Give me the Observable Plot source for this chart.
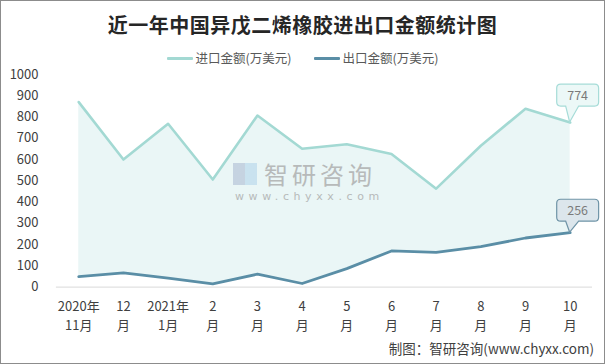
<!DOCTYPE html>
<html><head><meta charset="utf-8">
<script src="https://cdn.jsdelivr.net/npm/d3@7"></script>
<script src="https://cdn.jsdelivr.net/npm/@observablehq/plot@0.6"></script>
<style>
body{margin:0;background:#fff;}
#wrap{position:relative;width:605px;height:364px;box-sizing:border-box;border:1px solid #8c8c8c;overflow:hidden;font-family:"Noto Sans CJK SC","Microsoft YaHei",sans-serif;background:#fff;}
#title{position:absolute;top:10px;left:-1px;width:605px;text-align:center;font-size:20px;font-weight:bold;color:#262626;line-height:28px;letter-spacing:0.5px;}
#legend{position:absolute;top:48px;left:-1px;width:605px;display:flex;justify-content:center;gap:22px;font-size:12.5px;color:#595959;line-height:18px;}
#legend .it{display:flex;align-items:center;gap:3px;}
#legend .sw{width:26px;height:3px;border-radius:1px;}
#chart{position:absolute;left:-1px;top:59px;}
#footer{position:absolute;right:10px;top:337px;font-size:13.5px;color:#404040;line-height:20px;}
#wm{position:absolute;left:228px;top:160px;pointer-events:none;color:#a6a6a6;opacity:0.75;}
#wm .cn{position:absolute;left:35px;top:1px;font-size:24px;letter-spacing:4px;white-space:nowrap;line-height:24px;}
#wm .en{position:absolute;left:6px;top:30px;font-size:11px;letter-spacing:4.6px;white-space:nowrap;line-height:12px;font-family:"DejaVu Sans",sans-serif;}
#wm .logo{position:absolute;left:4px;top:2px;width:24px;height:22px;background:linear-gradient(90deg,#b4c3d8 50%,#b9d9ec 50%);opacity:0.9;}
</style></head>
<body>
<div id="wrap">
  <div id="title">近一年中国异戊二烯橡胶进出口金额统计图</div>
  <div id="legend">
    <div class="it"><div class="sw" style="background:#a3d9d3"></div><span>进口金额(万美元)</span></div>
    <div class="it"><div class="sw" style="background:#5a8ea6"></div><span>出口金额(万美元)</span></div>
  </div>
  <div id="chart"></div>
  <div id="wm"><div class="logo"></div><div class="cn">智研咨询</div><div class="en">www.chyxx.com</div></div>
  <div id="footer">制图：智研咨询(www.chyxx.com)</div>
</div>
<script>
const months = ["2020年\n11月","12\n月","2021年\n1月","2\n月","3\n月","4\n月","5\n月","6\n月","7\n月","8\n月","9\n月","10\n月"];
const importVals = [870, 600, 768, 506, 807, 651, 672, 626, 463, 665, 839, 774];
const exportVals = [49, 67, 42, 15, 61, 17, 87, 170, 163, 190, 231, 256];
const yTicks = [0,100,200,300,400,500,600,700,800,900,1000];

const data = months.map((m,i)=>({m, imp: importVals[i], exp: exportVals[i]}));
const last = data[data.length-1];

function callout(key, fill, stroke, gap){
  return (index, scales) => {
    const v = last[key];
    const x = scales.x(last.m), y = scales.y(v);
    const w = 42, h = 22, r = 4;
    const bl = x - 13, br = bl + w, bb = y - gap, bt = bb - h;
    const p = `M${x},${y} L${x+9},${bb} L${br-r},${bb} Q${br},${bb} ${br},${bb-r} L${br},${bt+r} Q${br},${bt} ${br-r},${bt} L${bl+r},${bt} Q${bl},${bt} ${bl},${bt+r} L${bl},${bb-r} Q${bl},${bb} ${bl+r},${bb} L${x-4},${bb} Z`;
    const g = d3.create("svg:g");
    g.append("path").attr("d", p).attr("fill", fill).attr("stroke", stroke).attr("stroke-width", 1.2);
    g.append("text").attr("x", (bl+br)/2).attr("y", (bt+bb)/2).attr("text-anchor","middle")
      .attr("dominant-baseline","central").attr("font-size", 12.5).attr("fill", "#7a7a7a").text(String(v));
    return g.node();
  };
}

const chart = Plot.plot({
  width: 605,
  height: 280,
  marginLeft: 56,
  marginRight: 12,
  marginTop: 14,
  marginBottom: 53,
  style: {fontFamily: '"Noto Sans CJK SC","Microsoft YaHei",sans-serif', fontSize: "13px", color: "#404040", background: "transparent", overflow: "visible"},
  x: {type: "point", domain: months, padding: 0.5, round: false, axis: null},
  y: {domain: [0, 1000], axis: null},
  marks: [
    Plot.areaY(data, {x: "m", y1: "exp", y2: "imp", fill: "#eaf6f6"}),
    Plot.ruleY([0], {stroke: "#d9d9d9", strokeWidth: 1}),
    Plot.lineY(data, {x: "m", y: "imp", stroke: "#a3d9d3", strokeWidth: 2.6}),
    Plot.lineY(data, {x: "m", y: "exp", stroke: "#5a8ea6", strokeWidth: 2.8}),
    Plot.axisY(yTicks, {tickSize: 0, tickPadding: 18, fill: "#404040", fontSize: 13, tickFormat: d => String(d), label: null}),
    Plot.axisX(months, {tickSize: 0, tickPadding: 11, fill: "#404040", fontSize: 13, lineHeight: 1.45, label: null}),
    callout("imp", "#ecf8f7", "#a6dcd8", 16),
    callout("exp", "#dce6ec", "#6f94a7", 11)
  ]
});
document.getElementById("chart").appendChild(chart);
</script>
</body></html>
